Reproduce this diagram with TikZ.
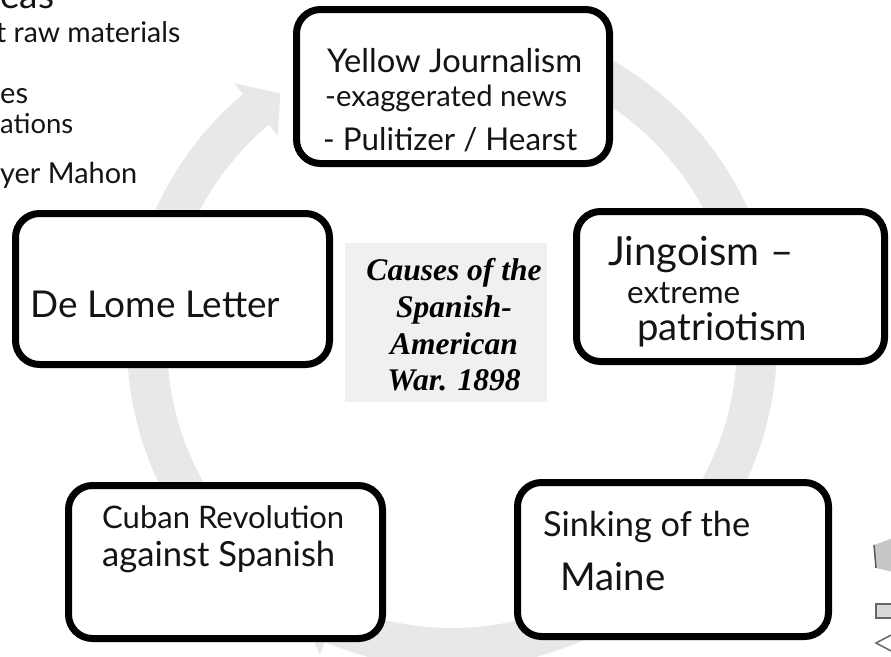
\documentclass[tikz,border=0pt]{standalone}
\usepackage{fontspec}
\usepackage{graphicx}
\setmainfont{Liberation Serif}
\newfontfamily\hand{Lato}
\usetikzlibrary{shadows}
\tikzset{
  cbox/.style={draw=black, line width=7pt, rounded corners=24pt, fill=white, inner sep=0pt,
    drop shadow={opacity=0.15, shadow xshift=0pt, shadow yshift=-3pt}},
  hw/.style={anchor=base west, inner sep=0pt, font=\hand, text=black!92},
  cyc/.style={fill=black!9},
  ttl/.style={anchor=base, inner sep=0pt, font=\fontsize{31.5}{36}\selectfont\bfseries\itshape},
  ttlbg/.style={fill=black!6, inner sep=0pt},
}
\newcommand\fitw[2]{\resizebox{#1}{!}{#2}}
\newcommand\cycarrow[3]{\fill[cyc] plot[domain=#1:#2, samples=40] (\x:325) -- (#2:339) -- (#3:303) -- (#2:271) -- plot[domain=#2:#1, samples=40] (\x:285) -- cycle;}
\begin{document}
\begin{tikzpicture}[x=1pt, y=-1pt]
\useasboundingbox (0,0) rectangle (891,656);
\clip (0,0) rectangle (891,656);

% cycle arrows
\begin{scope}[shift={(452,343)}, yscale=-1]
  \cycarrow{165}{130}{124.5}
  \cycarrow{70}{22}{15}
  \cycarrow{0}{-33}{-40}
  \cycarrow{-60}{-113}{-120}
  \cycarrow{-140}{-178}{-185}
\end{scope}

% centre title
\node[ttlbg, minimum width=202pt, minimum height=159pt] (bg) at (446,322.5) {};
\node[ttl] (t1) at (454,280) {Causes of the};
\node[ttl] (t2) at (454,317) {Spanish-};
\node[ttl] (t3) at (454,354) {American};
\node[ttl] (t4) at (454,390) {War. 1898};

% boxes
\node[cbox, minimum width=313pt, minimum height=154pt] (yj) at (453,86.5) {};
\node[cbox, minimum width=308pt, minimum height=150pt] (jg) at (730.5,286.5) {};
\node[cbox, minimum width=314pt, minimum height=151pt] (dl) at (172.5,289) {};
\node[cbox, minimum width=314pt, minimum height=153pt] (cr) at (225.5,562) {};
\node[cbox, minimum width=311pt, minimum height=154pt] (sm) at (673,559.5) {};

% box texts
\node[hw] (yj1) at (327,72) {\fitw{255pt}{Yellow Journalism}};
\node[hw] (yj2) at (325,106) {\fitw{242pt}{-exaggerated news}};
\node[hw] (yj3) at (323,150) {\fitw{254pt}{- Pulitizer / Hearst}};

\node[hw] (jg1) at (608,265) {\fitw{185pt}{Jingoism –}};
\node[hw] (jg2) at (627,303) {\fitw{113pt}{extreme}};
\node[hw] (jg3) at (637,340) {\fitw{170pt}{patriotism}};

\node[hw] (dl1) at (30,317) {\fitw{250pt}{De Lome Letter}};

\node[hw] (cr1) at (102,528) {\fitw{242pt}{Cuban Revolution}};
\node[hw] (cr2) at (102,566) {\fitw{233pt}{against Spanish}};

\node[hw] (sm1) at (543,536) {\fitw{207pt}{Sinking of the}};
\node[hw] (sm2) at (560,590) {\fitw{105pt}{Maine}};

% cut-off notes, top left
\node[hw] (f1) at (0,8) {\fitw{54pt}{eas}};
\node[hw] (f2) at (-4,42) {\fitw{184pt}{t raw materials}};
\node[hw] (f3) at (0,103) {\fitw{28pt}{es}};
\node[hw] (f4) at (0,133) {\fitw{73pt}{ations}};
\node[hw] (f5) at (0,183) {\fitw{137pt}{yer Mahon}};

% cut-off marks, bottom right
\fill[black!22] (874,545) -- (893,538) -- (893,572) -- (876,568) -- cycle;
\draw[black!65, line width=1.5pt] (874,545) -- (876,568);
\draw[black!60, line width=1.5pt, fill=black!15] (876,604) rectangle (895,618);
\draw[black!60, line width=1.5pt] (895,633) -- (876,643) -- (895,653);
\end{tikzpicture}
\end{document}
